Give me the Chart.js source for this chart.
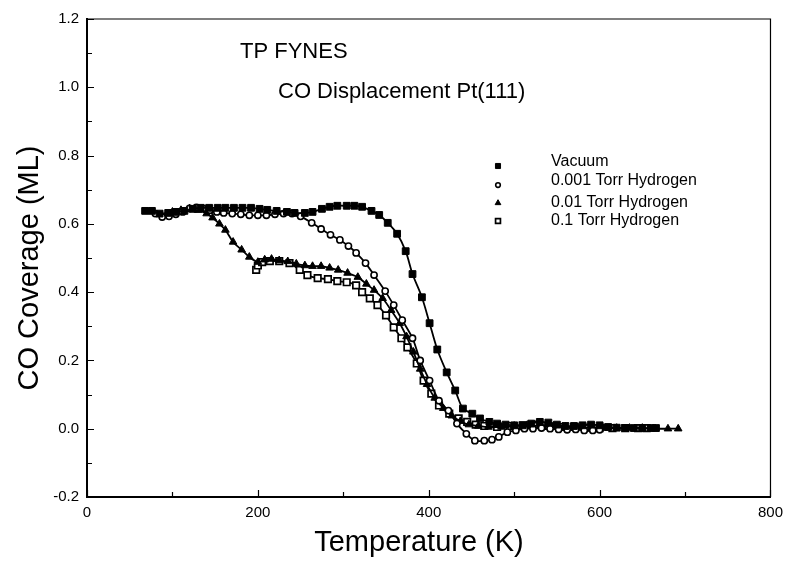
<!DOCTYPE html>
<html><head><meta charset="utf-8">
<script src="https://cdn.jsdelivr.net/npm/chart.js@4.4.1/dist/chart.umd.min.js"></script>
<style>html,body{margin:0;padding:0;background:#fff}#wrap{position:relative;width:790px;height:561px}</style>
</head><body><div id="wrap"><canvas id="c" width="790" height="561"></canvas></div>
<script>
// ---- data ----
const seriesNames = ['Vacuum', '0.001 Torr Hydrogen', '0.01 Torr Hydrogen', '0.1 Torr Hydrogen'];

const vacuumT = [68,76,85,95,104,114,124,133,143,153,162,172,182,192,202,211,222,234,243,255,264,275,284,293,304,313,322,333,342,352,363,373,381,392,401,410,421,431,440,451,460,471,480,490,500,510,520,530,540,550,560,570,580,590,600,610,620,630,640,650,660,666];
const vacuumCov = [0.638,0.638,0.63,0.632,0.635,0.638,0.644,0.647,0.647,0.647,0.647,0.647,0.647,0.647,0.644,0.641,0.638,0.635,0.632,0.632,0.635,0.644,0.65,0.653,0.653,0.653,0.65,0.638,0.626,0.603,0.571,0.52,0.453,0.385,0.309,0.232,0.165,0.112,0.059,0.044,0.03,0.02,0.015,0.012,0.01,0.01,0.015,0.02,0.018,0.012,0.008,0.008,0.01,0.012,0.01,0.005,0.003,0.002,0.002,0.002,0.002,0.002];

const h001T = [80,88,96,104,112,120,128,136,144,152,160,170,180,190,200,210,220,230,240,250,263,274,285,296,306,315,326,336,349,359,369,381,390,401,412,423,433,444,454,465,474,482,492,502,512,522,532,542,552,562,572,582,592,600];
const h001Cov = [0.63,0.62,0.622,0.628,0.635,0.645,0.648,0.645,0.64,0.635,0.632,0.63,0.628,0.625,0.625,0.625,0.628,0.63,0.63,0.622,0.603,0.585,0.568,0.553,0.535,0.515,0.485,0.45,0.403,0.362,0.318,0.265,0.2,0.141,0.082,0.053,0.015,-0.015,-0.035,-0.035,-0.032,-0.024,-0.01,-0.005,0.0,0.0,0.002,0.0,-0.002,-0.003,-0.002,-0.005,-0.005,-0.003];

const h01T = [100,110,120,130,140,147,155,162,171,181,190,200,208,216,225,235,245,255,264,274,284,294,305,317,327,336,346,356,366,374,382,390,398,407,417,427,437,447,458,470,485,500,515,530,545,560,575,590,605,620,635,650,665,680,692];
const h01Cov = [0.635,0.64,0.645,0.64,0.63,0.618,0.6,0.582,0.547,0.524,0.503,0.488,0.495,0.497,0.493,0.49,0.483,0.478,0.476,0.476,0.471,0.465,0.456,0.444,0.424,0.406,0.382,0.347,0.309,0.27,0.225,0.175,0.13,0.09,0.06,0.038,0.022,0.012,0.008,0.005,0.005,0.008,0.01,0.008,0.005,0.005,0.003,0.003,0.002,0.002,0.002,0.002,0.0,0.0,0.0];

const h1T = [198,200,205,214,225,237,249,258,270,282,293,304,315,322,331,340,350,359,368,375,386,394,403,412,424,435,445,455,465,480,495,510,525,540,555,570,585,600,615,630,645,655];
const h1Cov = [0.465,0.478,0.488,0.491,0.491,0.485,0.465,0.45,0.441,0.438,0.432,0.429,0.42,0.4,0.382,0.362,0.332,0.297,0.265,0.238,0.191,0.141,0.103,0.068,0.044,0.03,0.02,0.012,0.008,0.005,0.008,0.01,0.012,0.008,0.005,0.005,0.003,0.002,0.002,0.002,0.002,0.002];

const xTickLabels = ['0','200','400','600','800'];
const yTickLabels = ['-0.2','0.0','0.2','0.4','0.6','0.8','1.0','1.2'];
const titleLine1 = 'TP FYNES';
const titleLine2 = 'CO Displacement Pt(111)';
const xTitle = 'Temperature (K)';
const yTitle = 'CO Coverage (ML)';

// ---- build ----
const FONT = '"Liberation Sans", Arial, Helvetica, sans-serif';
const pairs = (t, v) => t.map((x, i) => ({x: x, y: v[i]}));

const styles = [
  {pointStyle:'rect', radius:4.8, bg:'#000', bw:1},
  {pointStyle:'circle', radius:3.1, bg:'#fff', bw:1.6},
  {pointStyle:'triangle', radius:4.4, bg:'#000', bw:1},
  {pointStyle:'rect', radius:4.6, bg:'#fff', bw:1.7}
];
const dataSets = [pairs(vacuumT, vacuumCov), pairs(h001T, h001Cov), pairs(h01T, h01Cov), pairs(h1T, h1Cov)];

const datasets = dataSets.map((d, i) => ({
  label: seriesNames[i],
  data: d,
  borderColor: '#000',
  borderWidth: 1.8,
  tension: 0.3,
  pointStyle: styles[i].pointStyle,
  pointRadius: styles[i].radius,
  pointBackgroundColor: styles[i].bg,
  pointBorderColor: '#000',
  pointBorderWidth: styles[i].bw,
  fill: false
}));

const decor = {
  id: 'decor',
  afterDraw(chart) {
    const ctx = chart.ctx;
    const a = chart.chartArea;
    const xs = chart.scales.x, ys = chart.scales.y;
    ctx.save();
    ctx.strokeStyle = '#000';
    // top & right frame
    ctx.lineWidth = 1.2;
    ctx.beginPath();
    ctx.moveTo(a.left, a.top); ctx.lineTo(a.right, a.top); ctx.lineTo(a.right, a.bottom);
    ctx.stroke();
    // inward ticks
    ctx.lineWidth = 1.2;
    ctx.beginPath();
    for (let v = 0; v <= 800; v += 100) {
      const px = Math.round(xs.getPixelForValue(v)) + 0.5;
      const len = (v % 200 === 0) ? 7 : 5;
      ctx.moveTo(px, a.bottom); ctx.lineTo(px, a.bottom - len);
    }
    for (let k = -2; k <= 12; k++) {
      const py = Math.round(ys.getPixelForValue(k / 10)) + 0.5;
      const len = (k % 2 === 0) ? 7 : 5;
      ctx.moveTo(a.left, py); ctx.lineTo(a.left + len, py);
    }
    ctx.stroke();
    ctx.fillStyle = '#000';
    // axis titles
    ctx.font = '29px ' + FONT;
    ctx.textAlign = 'center';
    ctx.textBaseline = 'middle';
    ctx.fillText(xTitle, 419, 543);
    ctx.save();
    ctx.translate(30, 268);
    ctx.rotate(-Math.PI / 2);
    ctx.fillText(yTitle, 0, 0);
    ctx.restore();
    // in-plot title
    ctx.textBaseline = 'alphabetic';
    ctx.textAlign = 'left';
    ctx.font = '22px ' + FONT;
    ctx.fillText(titleLine1, 240, 58);
    ctx.fillText(titleLine2, 278, 98);
    // legend
    const lx = 498, tx = 551;
    const rowsY = [166, 185, 203, 221];
    const textY = [160, 179, 201, 219];
    ctx.font = '16px ' + FONT;
    chart.data.datasets.forEach((ds, i) => {
      ctx.fillStyle = styles[i].bg;
      ctx.strokeStyle = '#000';
      ctx.lineWidth = styles[i].bw;
      Chart.helpers.drawPoint(ctx, {pointStyle: ds.pointStyle, radius: ds.pointRadius * 0.75, rotation: 0, borderWidth: styles[i].bw}, lx, rowsY[i]);
      ctx.fillStyle = '#000';
      ctx.fillText(ds.label, tx, textY[i] + 6);
    });
    ctx.restore();
  }
};

new Chart(document.getElementById('c'), {
  type: 'line',
  data: {datasets: datasets},
  options: {
    responsive: false,
    animation: false,
    devicePixelRatio: 1,
    layout: {padding: {left: 0, top: 19, right: 18, bottom: 0}},
    plugins: {legend: {display: false}, tooltip: {enabled: false}},
    scales: {
      x: {
        type: 'linear', min: 0, max: 800,
        afterFit(s) { s.height = 64; },
        grid: {display: true, drawOnChartArea: false, drawTicks: false},
        border: {display: true, color: '#000', width: 2},
        ticks: {
          stepSize: 100, autoSkip: false, maxRotation: 0, padding: 7, color: '#000',
          font: {family: FONT, size: 15},
          callback: (v) => (v % 200 === 0 ? xTickLabels[v / 200] : '')
        },
        title: {display: false}
      },
      y: {
        type: 'linear', min: -0.2, max: 1.2,
        afterFit(s) { s.width = 87; },
        grid: {display: true, drawOnChartArea: false, drawTicks: false},
        border: {display: true, color: '#000', width: 2},
        ticks: {
          stepSize: 0.1, autoSkip: false, padding: 8, color: '#000',
          font: {family: FONT, size: 15},
          callback: (v) => { const k = Math.round(v * 10); return (k % 2 === 0) ? yTickLabels[(k + 2) / 2] : ''; }
        },
        title: {display: false}
      }
    }
  },
  plugins: [decor]
});
</script>
</body></html>
